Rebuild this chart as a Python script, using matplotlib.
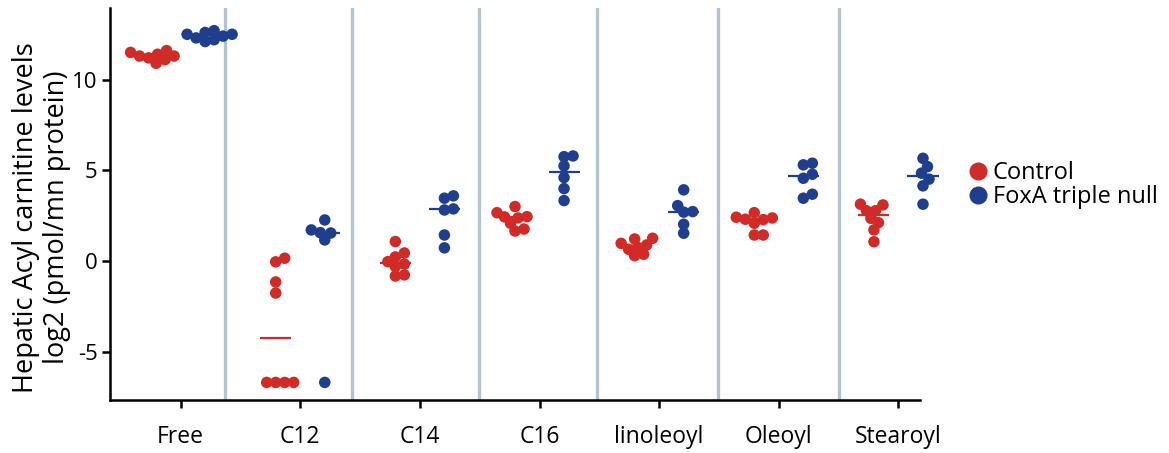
#!/usr/bin/env python3
"""
Hepatic acyl carnitine levels, control vs FoxA triple null (dot plot with medians).
"""

import numpy as np
import matplotlib
matplotlib.use("Agg")
import matplotlib.pyplot as plt
from matplotlib.lines import Line2D

plt.rcParams["font.family"] = ["Open Sans", "DejaVu Sans"]

# ── Data (log2 pmol/mg protein) ----------------------------------------------
categories = ["Free", "C12", "C14", "C16", "linoleoyl", "Oleoyl", "Stearoyl"]

control = [
    [11.6, 11.3, 11.5, 11.1, 10.9, 11.2, 11.3, 11.4],
    [0.15, -0.05, -1.16, -1.77, -6.7, -6.7, -6.7, -6.7],
    [1.07, 0.44, 0.22, -0.17, -0.31, -0.04, -0.83, -0.77],
    [3.0, 2.66, 2.37, 2.43, 2.44, 2.08, 1.76, 1.65],
    [1.21, 1.25, 0.97, 0.88, 0.64, 0.75, 0.29, 0.37],
    [2.66, 2.41, 2.30, 2.37, 2.08, 1.43, 1.43, 2.28],
    [3.09, 3.13, 2.77, 2.77, 2.35, 2.11, 1.71, 1.06],
]

foxa_null = [
    [12.7, 12.5, 12.3, 12.2, 12.6, 12.4, 12.1, 12.5],
    [2.26, 1.56, 1.16, 1.54, 1.71, -6.7],
    [3.59, 3.46, 2.81, 2.87, 1.43, 0.72],
    [5.79, 5.75, 5.24, 4.60, 3.99, 3.33],
    [3.92, 3.05, 2.69, 2.72, 2.02, 1.53],
    [5.39, 5.30, 4.78, 4.56, 3.46, 3.68],
    [5.66, 5.20, 4.84, 4.51, 4.14, 3.13],
]

RED = "#d12b27"
BLUE = "#1f3e8e"
SEP = "#b3c4d0"

PX_X = 119.7   # pixels per category
PX_Y = 18.13   # pixels per log2 unit
DOT_D = 11.5   # dot diameter, pixels


def swarm_offsets(values, step=1.5, min_dist=8.5):
    """Simple beeswarm: returns x offsets (category units) for each value."""
    vals = np.asarray(values, dtype=float)
    order = np.argsort(vals)
    placed = []
    offs = np.zeros(len(vals))
    for idx in order:
        y = vals[idx] * PX_Y
        k = 0
        while True:
            cands = [0.0] if k == 0 else [k * step, -k * step]
            ok = None
            for c in cands:
                if all((c - px) ** 2 + (y - py) ** 2 >= min_dist ** 2 for px, py in placed):
                    ok = c
                    break
            if ok is not None:
                break
            k += 1
        placed.append((ok, y))
        offs[idx] = ok / PX_X
    return offs


# ── Plot -------------------------------------------------------------------------
fig = plt.figure(figsize=(11.69, 4.53), dpi=100)
ax = fig.add_axes([110 / 1169, 53 / 453, 810 / 1169, 392 / 453])

x = np.arange(len(categories))
shift = 0.205
half = 0.13

for i in range(len(categories)):
    for vals, col, sgn in [(control[i], RED, -1), (foxa_null[i], BLUE, 1)]:
        cx = x[i] + sgn * shift
        offs = swarm_offsets(vals)
        ax.scatter(cx + offs, vals, s=(DOT_D * 0.72) ** 2, color=col,
                   edgecolors="none", zorder=3, clip_on=False)
        med = np.median(vals)
        ax.plot([cx - half, cx + half], [med, med], color=col, lw=1.6,
                zorder=4, solid_capstyle="butt", clip_on=False)

# category separators
for s in [0.375, 1.43, 2.49, 3.48, 4.49, 5.50]:
    ax.axvline(s, color=SEP, lw=2.4, zorder=1)

ax.set_xlim(-0.59, 6.18)
ax.set_ylim(-7.67, 13.95)
ax.set_xticks(x)
ax.set_xticklabels(categories, fontsize=16.5)
ax.set_yticks([-5, 0, 5, 10])
ax.set_yticklabels(["-5", "0", "5", "10"], fontsize=16)

for side in ["top", "right"]:
    ax.spines[side].set_visible(False)
for side in ["left", "bottom"]:
    ax.spines[side].set_linewidth(1.8)
ax.tick_params(axis="both", width=1.8, length=6, pad=3)
ax.tick_params(axis="x", pad=12)

ax.set_ylabel("Hepatic Acyl carnitine levels\nlog2 (pmol/mn protein)",
              fontsize=19.5, linespacing=1.12, labelpad=1)
ax.yaxis.label.set_y(0.465)

handles = [
    Line2D([], [], ls="none", marker="o", ms=13, color=RED, mec="none"),
    Line2D([], [], ls="none", marker="o", ms=13, color=BLUE, mec="none"),
]
fig.legend(handles, ["Control", "FoxA triple null"], loc="upper left",
           bbox_to_anchor=(956 / 1169, 1 - 152 / 453), frameon=False,
           fontsize=17, handletextpad=0.05, labelspacing=0.0,
           handlelength=1.1, borderaxespad=0)

plt.savefig("out.png", dpi=100)
print("Chart saved to out.png")
